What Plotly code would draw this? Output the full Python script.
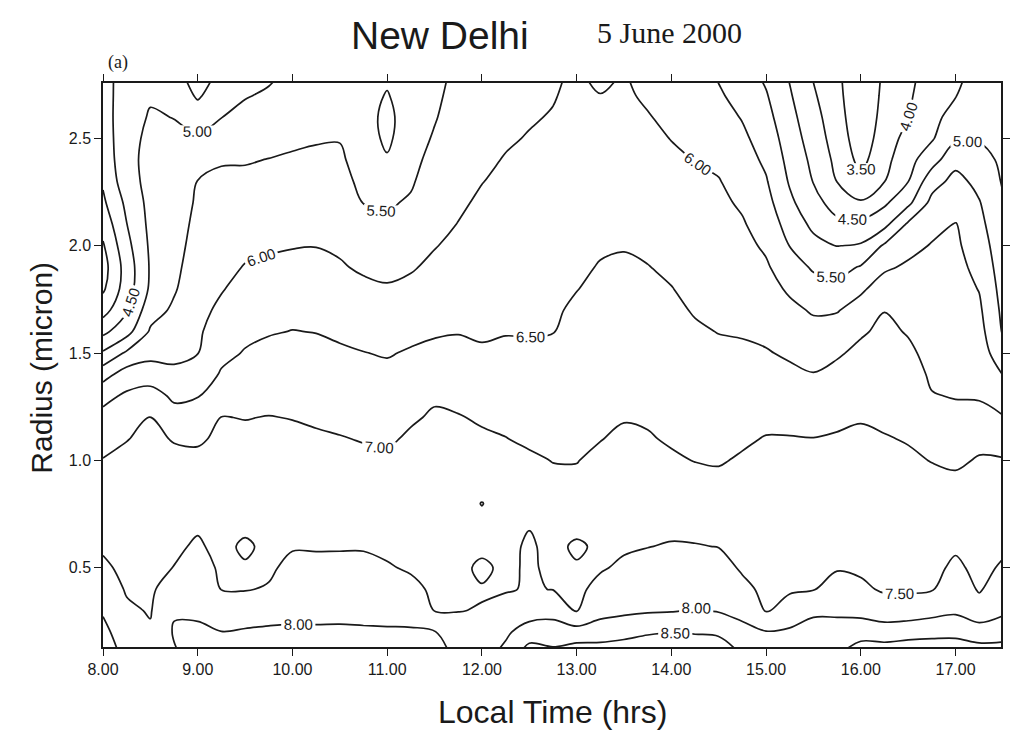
import plotly.graph_objects as go
import numpy as np

# Local time (hrs) of each grid column and radius (micron) of each grid row
local_time = [8.0, 8.25, 8.5, 8.75, 9.0, 9.25, 9.5, 9.75, 10.0, 10.25, 10.5, 10.75,
              11.0, 11.25, 11.5, 11.75, 12.0, 12.25, 12.5, 12.75, 13.0, 13.25, 13.5,
              13.75, 14.0, 14.25, 14.5, 14.75, 15.0, 15.25, 15.5, 15.75, 16.0, 16.25,
              16.5, 16.75, 17.0, 17.25, 17.5]
radius = [0.1, 0.2, 0.3, 0.4, 0.5, 0.6, 0.7, 0.8, 0.9, 1.0, 1.1, 1.2, 1.3, 1.4,
          1.5, 1.6, 1.7, 1.8, 1.9, 2.0, 2.1, 2.2, 2.3, 2.4, 2.5, 2.6, 2.7, 2.8]

t0800 = [8.3, 8.13, 7.95, 7.76, 7.58, 7.44, 7.34, 7.23, 7.13, 7.02, 6.84, 6.64, 6.36, 5.81, 5.07, 4.38, 3.8, 3.42, 3.3, 3.45, 3.68, 3.91, 4.06, 4.15, 4.22, 4.28, 4.33, 4.38]
t0815 = [7.85, 7.72, 7.57, 7.46, 7.39, 7.33, 7.27, 7.2, 7.13, 7.07, 6.99, 6.79, 6.58, 6.23, 5.58, 4.82, 4.45, 4.25, 4.22, 4.35, 4.49, 4.61, 4.8, 4.87, 4.85, 4.8, 4.72, 4.65]
t0830 = [7.62, 7.55, 7.47, 7.43, 7.38, 7.32, 7.27, 7.22, 7.17, 7.12, 7.07, 7.02, 6.71, 6.25, 5.85, 5.56, 5.3, 5.08, 5.05, 5.08, 5.12, 5.15, 5.15, 5.13, 5.1, 5.04, 4.95, 4.85]
t0845 = [7.95, 8.04, 7.96, 7.73, 7.51, 7.42, 7.33, 7.25, 7.16, 7.08, 6.98, 6.69, 6.41, 6.1, 5.89, 5.73, 5.58, 5.45, 5.38, 5.32, 5.27, 5.22, 5.18, 5.13, 5.08, 4.99, 4.85, 4.7]
t0900 = [8.19, 8.06, 7.94, 7.81, 7.69, 7.56, 7.44, 7.33, 7.21, 7.09, 6.95, 6.7, 6.48, 6.2, 5.99, 5.93, 5.87, 5.81, 5.75, 5.69, 5.63, 5.57, 5.51, 5.3, 5.07, 4.77, 4.43, 4.2]
t0915 = [8.28, 8.01, 7.74, 7.49, 7.43, 7.37, 7.31, 7.25, 7.19, 7.13, 7.07, 7.01, 6.79, 6.55, 6.38, 6.24, 6.09, 5.97, 5.89, 5.81, 5.73, 5.65, 5.57, 5.47, 5.23, 4.99, 4.8, 4.62]
t0930 = [8.27, 8.05, 7.76, 7.48, 7.45, 7.58, 7.38, 7.31, 7.24, 7.13, 7.07, 6.99, 6.83, 6.68, 6.53, 6.4, 6.27, 6.15, 6.02, 5.91, 5.8, 5.7, 5.59, 5.47, 5.3, 5.13, 4.97, 4.85]
t0945 = [8.3, 8.08, 7.81, 7.53, 7.44, 7.38, 7.32, 7.26, 7.2, 7.14, 7.07, 7.01, 6.89, 6.75, 6.61, 6.47, 6.34, 6.2, 6.07, 5.95, 5.84, 5.73, 5.62, 5.51, 5.36, 5.21, 5.06, 4.92]
t1000 = [8.3, 8.06, 7.9, 7.75, 7.6, 7.47, 7.39, 7.31, 7.23, 7.15, 7.07, 6.99, 6.87, 6.75, 6.63, 6.51, 6.38, 6.24, 6.11, 5.98, 5.87, 5.76, 5.65, 5.54, 5.44, 5.33, 5.22, 5.1]
t1015 = [8.3, 8.06, 7.89, 7.74, 7.59, 7.47, 7.38, 7.3, 7.22, 7.13, 7.05, 6.95, 6.84, 6.73, 6.61, 6.49, 6.37, 6.24, 6.12, 5.99, 5.89, 5.79, 5.68, 5.57, 5.47, 5.37, 5.27, 5.17]
t1030 = [8.3, 8.06, 7.9, 7.75, 7.6, 7.47, 7.38, 7.29, 7.2, 7.11, 7.02, 6.91, 6.79, 6.67, 6.56, 6.43, 6.3, 6.17, 6.04, 5.94, 5.85, 5.75, 5.66, 5.57, 5.48, 5.4, 5.31, 5.22]
t1045 = [8.3, 8.05, 7.89, 7.75, 7.6, 7.47, 7.37, 7.27, 7.18, 7.08, 6.98, 6.86, 6.74, 6.63, 6.51, 6.37, 6.23, 6.09, 5.94, 5.79, 5.65, 5.49, 5.38, 5.3, 5.24, 5.2, 5.18, 5.18]
t1100 = [8.3, 8.05, 7.86, 7.7, 7.53, 7.43, 7.33, 7.24, 7.15, 7.06, 6.95, 6.83, 6.71, 6.6, 6.47, 6.33, 6.19, 6.04, 5.89, 5.73, 5.56, 5.45, 5.28, 5.05, 4.9, 4.87, 4.97, 5.1]
t1115 = [8.3, 8.05, 7.83, 7.59, 7.46, 7.39, 7.32, 7.25, 7.18, 7.12, 7.05, 6.96, 6.82, 6.68, 6.54, 6.4, 6.25, 6.1, 5.96, 5.82, 5.69, 5.55, 5.45, 5.38, 5.32, 5.27, 5.25, 5.25]
t1130 = [8.25, 8.03, 7.49, 7.44, 7.39, 7.34, 7.29, 7.24, 7.19, 7.14, 7.09, 7.04, 6.96, 6.79, 6.61, 6.45, 6.33, 6.21, 6.09, 5.98, 5.89, 5.8, 5.72, 5.63, 5.54, 5.47, 5.42, 5.38]
t1145 = [7.85, 7.68, 7.49, 7.44, 7.39, 7.33, 7.28, 7.23, 7.18, 7.12, 7.07, 7.02, 6.91, 6.76, 6.62, 6.48, 6.39, 6.29, 6.2, 6.1, 6.01, 5.94, 5.87, 5.81, 5.75, 5.69, 5.64, 5.59]
t1200 = [7.8, 7.66, 7.52, 7.47, 7.58, 7.4, 7.35, 7.52, 7.2, 7.12, 7.05, 6.96, 6.83, 6.69, 6.55, 6.45, 6.39, 6.32, 6.26, 6.19, 6.13, 6.06, 5.99, 5.93, 5.87, 5.82, 5.77, 5.73]
t1215 = [8.15, 7.9, 7.65, 7.47, 7.41, 7.35, 7.28, 7.22, 7.15, 7.08, 7.01, 6.91, 6.8, 6.69, 6.58, 6.48, 6.42, 6.37, 6.31, 6.25, 6.19, 6.13, 6.08, 6.02, 5.96, 5.91, 5.86, 5.82]
t1230 = [8.7, 8.29, 7.7, 7.53, 7.56, 7.58, 7.47, 7.33, 7.19, 7.06, 6.94, 6.85, 6.75, 6.65, 6.56, 6.48, 6.43, 6.38, 6.33, 6.28, 6.23, 6.18, 6.12, 6.07, 6.02, 5.97, 5.93, 5.88]
t1245 = [8.62, 8.24, 7.83, 7.49, 7.41, 7.33, 7.25, 7.16, 7.08, 6.99, 6.92, 6.83, 6.75, 6.67, 6.58, 6.49, 6.45, 6.4, 6.36, 6.31, 6.26, 6.21, 6.17, 6.12, 6.07, 6.02, 5.98, 5.95]
t1300 = [8.8, 8.2, 7.48, 7.41, 7.44, 7.6, 7.3, 7.14, 7.06, 6.99, 6.93, 6.86, 6.8, 6.74, 6.68, 6.62, 6.56, 6.49, 6.44, 6.39, 6.34, 6.29, 6.24, 6.2, 6.16, 6.12, 6.08, 6.05]
t1315 = [8.8, 8.23, 7.85, 7.62, 7.46, 7.38, 7.3, 7.23, 7.15, 7.07, 6.99, 6.93, 6.87, 6.81, 6.76, 6.7, 6.64, 6.58, 6.52, 6.46, 6.38, 6.31, 6.24, 6.18, 6.12, 6.06, 6.01, 5.9]
t1330 = [8.85, 8.32, 7.91, 7.74, 7.57, 7.45, 7.37, 7.29, 7.21, 7.13, 7.06, 6.98, 6.92, 6.86, 6.8, 6.73, 6.67, 6.61, 6.55, 6.48, 6.38, 6.29, 6.22, 6.16, 6.11, 6.08, 6.05, 6.02]
t1345 = [8.9, 8.44, 7.95, 7.8, 7.64, 7.49, 7.4, 7.3, 7.21, 7.12, 7.03, 6.96, 6.89, 6.83, 6.76, 6.7, 6.64, 6.57, 6.51, 6.44, 6.37, 6.3, 6.23, 6.16, 6.09, 6.02, 5.95, 5.88]
t1400 = [8.95, 8.49, 7.97, 7.83, 7.68, 7.53, 7.4, 7.29, 7.17, 7.05, 6.96, 6.9, 6.83, 6.77, 6.71, 6.64, 6.58, 6.51, 6.44, 6.37, 6.29, 6.22, 6.15, 6.07, 5.99, 5.92, 5.85, 5.77]
t1415 = [8.88, 8.46, 8.04, 7.85, 7.68, 7.52, 7.38, 7.25, 7.12, 6.99, 6.92, 6.84, 6.77, 6.7, 6.62, 6.55, 6.47, 6.41, 6.34, 6.27, 6.2, 6.14, 6.07, 5.99, 5.91, 5.83, 5.75, 5.67]
t1430 = [8.9, 8.4, 7.97, 7.81, 7.65, 7.49, 7.35, 7.22, 7.08, 6.97, 6.89, 6.81, 6.73, 6.66, 6.58, 6.49, 6.43, 6.36, 6.29, 6.23, 6.16, 6.09, 6.02, 5.92, 5.8, 5.68, 5.56, 5.45]
t1445 = [8.45, 8.15, 7.85, 7.6, 7.45, 7.37, 7.29, 7.2, 7.12, 7.04, 6.95, 6.85, 6.75, 6.66, 6.56, 6.47, 6.38, 6.3, 6.21, 6.13, 6.04, 5.94, 5.83, 5.71, 5.59, 5.47, 5.33, 5.2]
t1500 = [8.3, 8.03, 7.47, 7.41, 7.35, 7.3, 7.24, 7.19, 7.13, 7.07, 7.02, 6.91, 6.78, 6.65, 6.53, 6.41, 6.29, 6.17, 6.06, 5.93, 5.8, 5.67, 5.54, 5.41, 5.29, 5.16, 5.04, 4.9]
t1515 = [8.4, 8.09, 7.64, 7.46, 7.39, 7.33, 7.27, 7.21, 7.14, 7.08, 7.02, 6.89, 6.74, 6.59, 6.44, 6.27, 6.11, 5.93, 5.72, 5.49, 5.3, 5.1, 4.95, 4.85, 4.75, 4.65, 4.55, 4.45]
t1530 = [8.45, 8.33, 7.85, 7.48, 7.41, 7.35, 7.28, 7.21, 7.15, 7.08, 7.01, 6.86, 6.69, 6.52, 6.33, 6.15, 5.95, 5.7, 5.44, 5.15, 4.89, 4.67, 4.48, 4.38, 4.27, 4.17, 4.06, 3.96]
t1545 = [8.45, 8.18, 7.92, 7.66, 7.47, 7.4, 7.33, 7.25, 7.18, 7.11, 7.04, 6.92, 6.77, 6.62, 6.45, 6.21, 5.97, 5.66, 5.33, 4.99, 4.62, 4.29, 3.99, 3.87, 3.77, 3.7, 3.64, 3.6]
t1600 = [8.8, 8.28, 7.85, 7.56, 7.45, 7.38, 7.32, 7.25, 7.18, 7.12, 7.05, 6.98, 6.85, 6.73, 6.6, 6.45, 6.2, 5.92, 5.54, 5.05, 4.63, 4.06, 3.59, 3.35, 3.22, 3.14, 3.1, 3.08]
t1615 = [8.75, 8.28, 7.68, 7.46, 7.39, 7.33, 7.27, 7.21, 7.14, 7.08, 7.02, 6.94, 6.85, 6.76, 6.68, 6.59, 6.49, 6.22, 5.93, 5.57, 4.86, 4.42, 3.99, 3.85, 3.74, 3.67, 3.62, 3.58]
t1630 = [8.8, 8.33, 7.71, 7.45, 7.39, 7.32, 7.25, 7.19, 7.12, 7.05, 6.98, 6.88, 6.78, 6.68, 6.58, 6.47, 6.34, 6.2, 6.07, 5.86, 5.58, 4.88, 4.49, 4.33, 4.17, 3.99, 3.93, 3.88]
t1645 = [8.8, 8.37, 7.82, 7.47, 7.39, 7.31, 7.23, 7.16, 7.08, 6.99, 6.84, 6.68, 6.52, 6.44, 6.37, 6.3, 6.23, 6.16, 6.1, 6.03, 5.86, 5.64, 5.3, 4.8, 4.45, 4.35, 4.27, 4.2]
t1700 = [8.85, 8.36, 7.92, 7.75, 7.58, 7.44, 7.32, 7.2, 7.07, 6.94, 6.77, 6.61, 6.48, 6.43, 6.37, 6.31, 6.25, 6.2, 6.14, 6.08, 6.02, 5.87, 5.65, 5.35, 4.93, 4.69, 4.48, 4.35]
t1715 = [8.75, 8.25, 7.69, 7.46, 7.39, 7.31, 7.24, 7.17, 7.1, 7.03, 6.91, 6.64, 6.46, 6.37, 6.27, 6.17, 6.08, 5.98, 5.87, 5.76, 5.64, 5.53, 5.36, 5.16, 4.96, 4.85, 4.77, 4.72]
t1730 = [8.75, 8.29, 7.91, 7.73, 7.55, 7.43, 7.33, 7.23, 7.13, 7.03, 6.81, 6.53, 6.26, 5.99, 5.67, 5.46, 5.39, 5.32, 5.25, 5.18, 5.11, 5.04, 4.96, 4.92, 4.88, 4.85, 4.83, 4.81]

columns = [t0800, t0815, t0830, t0845, t0900, t0915, t0930, t0945, t1000, t1015,
           t1030, t1045, t1100, t1115, t1130, t1145, t1200, t1215, t1230, t1245,
           t1300, t1315, t1330, t1345, t1400, t1415, t1430, t1445, t1500, t1515,
           t1530, t1545, t1600, t1615, t1630, t1645, t1700, t1715, t1730]

x_tick_values = [8, 9, 10, 11, 12, 13, 14, 15, 16, 17]
x_tick_labels = ["8.00", "9.00", "10.00", "11.00", "12.00", "13.00", "14.00",
                 "15.00", "16.00", "17.00"]
y_tick_values = [0.5, 1.0, 1.5, 2.0, 2.5]
y_tick_labels = ["0.5", "1.0", "1.5", "2.0", "2.5"]

z = np.array(columns).T.tolist()

sans = "Liberation Sans, Arial, Helvetica, sans-serif"
serif = "Liberation Serif, Times New Roman, serif"
ink = "#1a1a1a"

fig = go.Figure(go.Contour(
    x=local_time, y=radius, z=z,
    contours=dict(start=3.5, end=8.5, size=0.5, coloring="none",
                  showlabels=True, labelformat=".2f",
                  labelfont=dict(size=15, color=ink, family=sans)),
    line=dict(color=ink, width=1.7, smoothing=1.0),
    showscale=False, hoverinfo="skip"))

axis_common = dict(showline=True, linecolor=ink, linewidth=1.5, mirror="ticks",
                   ticks="outside", ticklen=7, tickwidth=1, tickcolor=ink,
                   showgrid=False, zeroline=False,
                   tickfont=dict(family=sans, size=16, color=ink))

fig.update_xaxes(range=[8.0, 17.48], tickmode="array", tickvals=x_tick_values,
                 ticktext=x_tick_labels, **axis_common)
fig.update_yaxes(range=[0.131, 2.758], tickmode="array", tickvals=y_tick_values,
                 ticktext=y_tick_labels, **axis_common)

W, H = 1015, 740
L, R, T, B = 103, 5, 83, 93
pw, ph = W - L - R, H - T - B

def px(x):
    return (x - L) / pw

def py(y):
    return 1 - (y - T) / ph

annotations = [
    dict(text="New Delhi", x=px(443), y=py(35), font=dict(family=sans, size=39, color=ink)),
    dict(text="5 June 2000", x=px(675), y=py(33), font=dict(family=serif, size=30, color=ink)),
    dict(text="(a)", x=px(118), y=py(62), font=dict(family=serif, size=18, color=ink)),
    dict(text="Local Time (hrs)", x=px(557), y=py(712), font=dict(family=sans, size=32, color=ink)),
    dict(text="Radius (micron)", x=px(40), y=py(368), textangle=-90,
         font=dict(family=sans, size=30, color=ink)),
]
for a in annotations:
    a.update(xref="paper", yref="paper", showarrow=False, xanchor="center", yanchor="middle")

fig.update_layout(width=W, height=H, margin=dict(l=L, r=R, t=T, b=B),
                  plot_bgcolor="white", paper_bgcolor="white",
                  annotations=annotations, showlegend=False)

fig.write_html("out.html")
